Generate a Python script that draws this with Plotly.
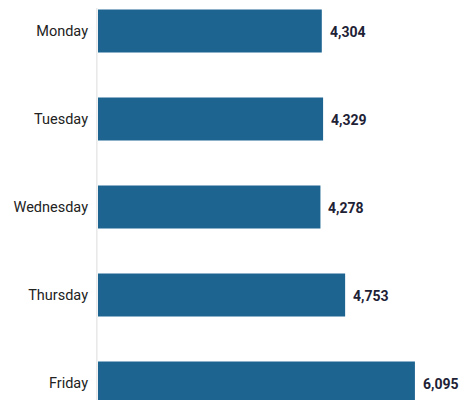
import plotly.graph_objects as go

days = ["Monday", "Tuesday", "Wednesday", "Thursday", "Friday"]
values = [4304, 4329, 4278, 4753, 6095]

bar_color = "#1d6491"
label_color = "#1e2236"

fig = go.Figure()
fig.add_trace(go.Bar(
    y=days, x=values, orientation="h",
    marker=dict(color=bar_color, line=dict(width=0)),
    width=0.49,
    hoverinfo="skip",
))

for d, v in zip(days, values):
    fig.add_annotation(
        x=v, y=d, text=f"<b>{v:,}</b>", showarrow=False,
        xanchor="left", xshift=6, yshift=-1,
        font=dict(family="Roboto", size=14, color=label_color),
    )

# page body has an 8px margin, so the figure is sized to fill the rest
fig.update_layout(
    width=465, height=392,
    margin=dict(l=90, r=0, t=0, b=0, autoexpand=False),
    paper_bgcolor="white", plot_bgcolor="white",
    showlegend=False,
    xaxis=dict(range=[0, 7212], visible=False, fixedrange=True),
    yaxis=dict(
        categoryorder="array", categoryarray=days,
        range=[4.193, -0.261],
        showgrid=False, zeroline=False,
        showline=False, ticks="",
        ticklabelstandoff=9,
        tickfont=dict(family="Roboto", size=14.5, color="#222222"),
    ),
)
fig.add_shape(type="line", xref="paper", yref="paper", x0=-0.003, x1=-0.003, y0=0, y1=1,
              line=dict(color="#dcdcdc", width=1), layer="below")

fig.write_html("out.html")
